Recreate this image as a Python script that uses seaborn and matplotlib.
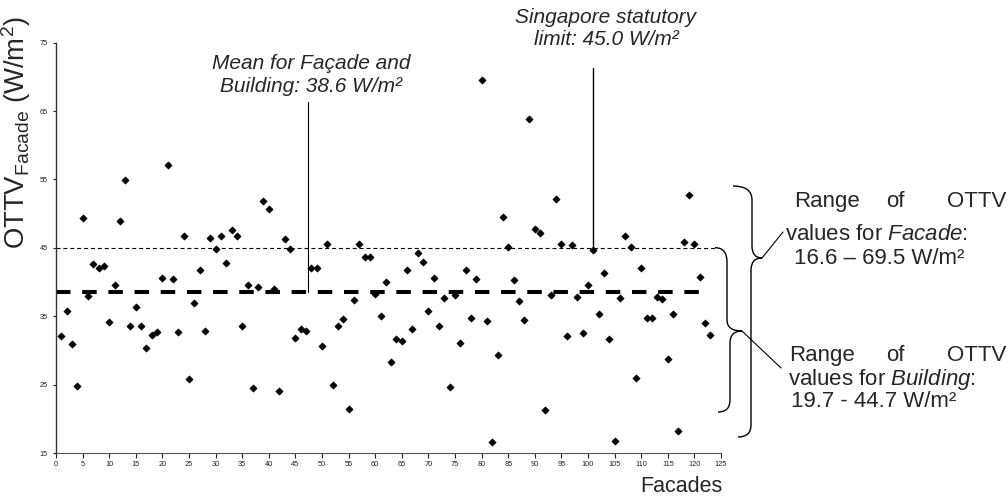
import numpy as np
import pandas as pd
import matplotlib
matplotlib.use("Agg")
import matplotlib.pyplot as plt
from matplotlib.path import Path
from matplotlib.patches import PathPatch
from matplotlib.transforms import Affine2D
import seaborn as sns

# ---------------- data ----------------
facade = list(range(1, 124))
ottv = [32.1, 35.7, 31.0, 24.8, 49.4, 38.0, 42.6, 42.0, 42.3, 34.2,
        39.6, 48.9, 54.9, 33.6, 36.3, 33.5, 30.3, 32.3, 32.7, 40.6,
        57.1, 40.4, 32.7, 46.7, 25.8, 36.9, 41.8, 32.8, 46.5, 44.9,
        46.8, 42.8, 47.6, 46.7, 33.5, 39.5, 24.5, 39.3, 51.9, 50.7,
        39.0, 24.0, 46.3, 44.8, 31.8, 33.2, 32.9, 42.0, 42.1, 30.7,
        45.5, 24.9, 33.5, 34.6, 21.5, 37.4, 45.6, 43.7, 43.7, 38.2,
        35.1, 40.0, 28.3, 31.6, 31.4, 41.8, 33.2, 44.3, 42.9, 35.8,
        40.6, 33.6, 37.6, 24.6, 38.1, 31.1, 41.7, 34.8, 40.5, 69.5,
        34.3, 16.6, 29.3, 49.5, 45.1, 40.3, 37.3, 34.4, 63.9, 47.8,
        47.2, 21.3, 38.1, 52.1, 45.6, 32.1, 45.4, 37.8, 32.5, 39.5,
        44.7, 35.3, 41.3, 31.6, 16.7, 37.6, 46.8, 45.1, 25.9, 42.1,
        34.8, 34.8, 37.8, 37.5, 28.7, 35.3, 18.2, 45.9, 52.8, 45.6,
        40.8, 34.0, 32.3]
x_ticks = list(range(0, 126, 5))
y_ticks = [15, 25, 35, 45, 55, 65, 75]
MEAN = 38.6
LIMIT = 45.0

df = pd.DataFrame({"Facade": facade, "OTTV": ottv})

# ---------------- style ----------------
sns.set_style("ticks")
FONT = ["Liberation Sans", "DejaVu Sans"]
plt.rcParams["font.family"] = FONT
plt.rcParams["mathtext.fontset"] = "custom"
plt.rcParams["mathtext.rm"] = "Liberation Sans"
plt.rcParams["mathtext.it"] = "Liberation Sans:italic"

W, H = 1008, 496
fig = plt.figure(figsize=(W / 100, H / 100), dpi=100)
ax = fig.add_axes([56 / W, 1 - 453 / H, (721 - 56) / W, (453 - 42.7) / H])

sns.scatterplot(data=df, x="Facade", y="OTTV", marker="D", s=14,
                color="black", edgecolor="black", linewidth=0.4, ax=ax,
                zorder=3, legend=False)

ax.set_xlim(0, 125)
ax.set_ylim(15, 75)
ax.set_xticks(x_ticks)
ax.set_yticks(y_ticks)
ax.set_xlabel("")
ax.set_ylabel("")
ax.tick_params(axis="x", direction="out", length=3.5, width=0.8,
               labelsize=5.3, pad=2.5, colors="#222222")
ax.tick_params(axis="y", direction="out", length=2.5, width=0.8,
               labelsize=5.3, pad=3.5, colors="#222222")
for sp in ["top", "right"]:
    ax.spines[sp].set_visible(False)
ax.spines["left"].set_color("#333333")
ax.spines["left"].set_linewidth(1.0)
ax.spines["bottom"].set_color("#555555")
ax.spines["bottom"].set_linewidth(0.8)

# reference lines
ax.plot([0, 123.9], [LIMIT, LIMIT], color="black", lw=0.8,
        dashes=(3.6, 2.6), zorder=2)
ax.plot([0, 123], [MEAN, MEAN], color="black", lw=2.9,
        dashes=(3.6, 2.9), zorder=2)

# annotation leader lines (data coords)
ax.plot([47.3, 47.3], [66.4, MEAN], color="black", lw=0.8, zorder=2)
ax.plot([101.0, 101.0], [71.3, LIMIT], color="black", lw=1.0, zorder=2)

# ---------------- pixel-space helpers ----------------
pix = Affine2D().scale(1 / W, -1 / H).translate(0, 1) + fig.transFigure


def ftext(x, y, s, **kw):
    kw.setdefault("fontsize", 15)
    fig.text(x / W, 1 - y / H, s, **kw)


# titles
ftext(311, 69.3, "Mean for Façade and", ha="center", va="baseline",
      style="italic")
ftext(311, 91.7, "Building: 38.6 W/m²", ha="center", va="baseline",
      style="italic")
ftext(606, 23.3, "Singapore statutory", ha="center", va="baseline",
      style="italic")
ftext(606, 45.0, "limit: 45.0 W/m²", ha="center", va="baseline",
      style="italic")

# y label
ftext(16, 133, r"OTTV$_{\mathregular{Facade}}$ (W/m$^{\mathregular{2}}$)",
      ha="center", va="center", rotation=90, fontsize=19.8)
# x label
ftext(723, 491.5, "Facades", ha="right", va="baseline", fontsize=15.5)

# braces
C = Path.CURVE3
up_verts = [(733, 186), (752, 186), (752, 200), (752, 246), (752, 258),
            (762, 258), (751, 258), (751, 270), (751, 425), (751, 437),
            (738, 437)]
up_codes = [Path.MOVETO, C, C, Path.LINETO, C, C, C, C, Path.LINETO, C, C]
fig.patches.append(PathPatch(Path(up_verts, up_codes), transform=pix,
                             fill=False, lw=1.0, ec="black"))
lo_verts = [(715, 247.7), (727, 247.7), (727, 262), (727, 320), (727, 331),
            (742, 331), (730, 331), (730, 343), (730, 400), (730, 412),
            (718, 412)]
lo_codes = [Path.MOVETO, C, C, Path.LINETO, C, C, C, C, Path.LINETO, C, C]
fig.patches.append(PathPatch(Path(lo_verts, lo_codes), transform=pix,
                             fill=False, lw=1.0, ec="black"))

# leaders from braces to text
fig.lines.append(plt.Line2D([762, 783], [258, 232], transform=pix,
                            color="black", lw=0.8))
fig.lines.append(plt.Line2D([742, 781], [331, 368], transform=pix,
                            color="black", lw=0.8))

# right-side texts
RS = 16
ftext(794, 207, "Range", ha="left", va="baseline", fontsize=RS)
ftext(895, 207, "of", ha="center", va="baseline", fontsize=RS)
ftext(1006, 207, "OTTV", ha="right", va="baseline", fontsize=RS)
ftext(785, 240, "values for $\\it{Facade}$:", ha="left", va="baseline",
      fontsize=RS)
ftext(794, 264, "16.6 – 69.5 W/m²", ha="left", va="baseline", fontsize=RS)

ftext(789, 361, "Range", ha="left", va="baseline", fontsize=RS)
ftext(895, 361, "of", ha="center", va="baseline", fontsize=RS)
ftext(1006, 361, "OTTV", ha="right", va="baseline", fontsize=RS)
ftext(788, 385, "values for $\\it{Building}$:", ha="left", va="baseline",
      fontsize=RS)
ftext(791, 407, "19.7 - 44.7 W/m²", ha="left", va="baseline", fontsize=RS)

fig.savefig("out.png", dpi=100)
